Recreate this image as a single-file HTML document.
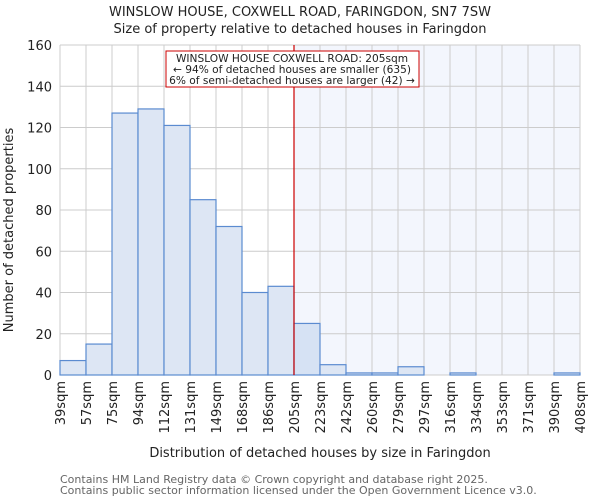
<!DOCTYPE html>
<html><head><meta charset="utf-8"><style>
body{margin:0;background:#fff;font-family:"DejaVu Sans","Liberation Sans",sans-serif;}
svg text{font-family:"DejaVu Sans","Liberation Sans",sans-serif;}
</style></head><body>
<svg id="c" width="600" height="500" xmlns="http://www.w3.org/2000/svg">
<text x="300" y="16" text-anchor="middle" font-size="13" fill="#222">WINSLOW HOUSE, COXWELL ROAD, FARINGDON, SN7 7SW</text>
<text x="300" y="33" text-anchor="middle" font-size="13" fill="#222">Size of property relative to detached houses in Faringdon</text>
<g id="plot"></g>
<text transform="translate(13,230) rotate(-90)" text-anchor="middle" font-size="13" fill="#222">Number of detached properties</text>
<text x="320" y="457" text-anchor="middle" font-size="13" fill="#222">Distribution of detached houses by size in Faringdon</text>
<text x="60" y="483" font-size="11" fill="#666">Contains HM Land Registry data © Crown copyright and database right 2025.</text>
<text x="60" y="494" font-size="11" fill="#666">Contains public sector information licensed under the Open Government Licence v3.0.</text>
</svg>
<script>
const tickLabels=["39sqm","57sqm","75sqm","94sqm","112sqm","131sqm","149sqm","168sqm","186sqm","205sqm","223sqm","242sqm","260sqm","279sqm","297sqm","316sqm","334sqm","353sqm","371sqm","390sqm","408sqm"];
const counts=[7,15,127,129,121,85,72,40,43,25,5,1,1,4,0,1,0,0,0,1];
const yTicks=[0,20,40,60,80,100,120,140,160];
const markerIndex=9;
const NS="http://www.w3.org/2000/svg";
const L=60,R=580,T=45,B=375,yMax=160;
const bw=(R-L)/counts.length;
const x=i=>L+i*bw;
const y=v=>B-(v/yMax)*(B-T);
const g=document.getElementById('plot');
function mk(t,a){const e=document.createElementNS(NS,t);for(const k in a)e.setAttribute(k,a[k]);g.appendChild(e);return e;}
let e;
e=mk('rect',{x:x(markerIndex),y:T,width:R-x(markerIndex),height:B-T,fill:'#f3f6fd'});


for(let i=0;i<=counts.length;i++){e=mk('line',{x1:x(i),x2:x(i),y1:T,y2:B,stroke:'#cccccc','stroke-width':1});

}
yTicks.forEach(v=>{e=mk('line',{x1:L,x2:R,y1:y(v),y2:y(v),stroke:'#cccccc','stroke-width':1});


e=mk('text',{x:L-8,y:y(v)+5,'text-anchor':'end','font-size':13,fill:'#222'});e.textContent=v;

});
counts.forEach((v,i)=>{if(v<=0)return;e=mk('rect',{x:x(i),y:y(v),width:bw,height:B-y(v),fill:i===markerIndex?'#d6e2f4':'#dde6f4',stroke:'#5b8bd0','stroke-width':1.2});

});
tickLabels.forEach((t,i)=>{e=mk('text',{transform:`translate(${x(i)+5},${B+6}) rotate(-90)`,'text-anchor':'end','font-size':13,fill:'#222'});e.textContent=t;

});
e=mk('line',{x1:x(markerIndex),x2:x(markerIndex),y1:T,y2:B,stroke:'#cc0000','stroke-width':1.2});


e=mk('rect',{x:166,y:51,width:253,height:36,fill:'#fff',stroke:'#cc0000','stroke-width':1});


["WINSLOW HOUSE COXWELL ROAD: 205sqm","← 94% of detached houses are smaller (635)","6% of semi-detached houses are larger (42) →"].forEach((t,i)=>{e=mk('text',{x:292,y:62+i*11,'text-anchor':'middle','font-size':10.6,fill:'#222'});e.textContent=t;

});
</script>
</body></html>
